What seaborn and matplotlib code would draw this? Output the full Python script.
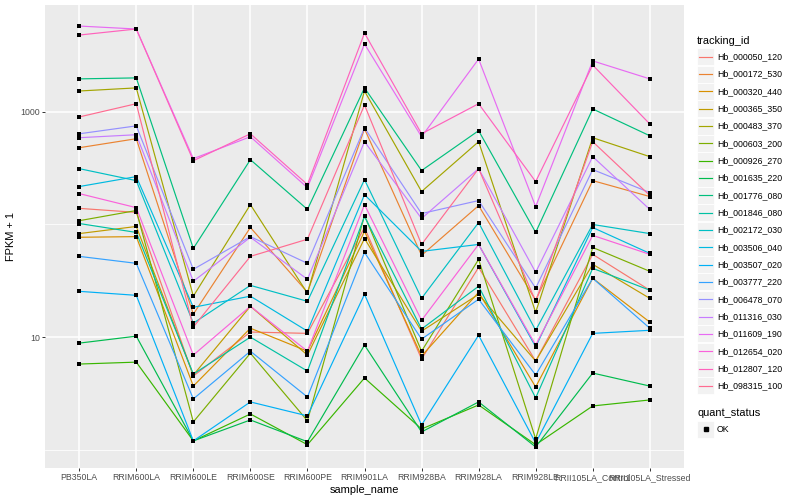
import numpy as np
import pandas as pd
import matplotlib
matplotlib.use("Agg")
import matplotlib.pyplot as plt
import seaborn as sns
from matplotlib.patches import Rectangle
from matplotlib.lines import Line2D
from matplotlib.ticker import FixedLocator, FixedFormatter, NullFormatter

# ---------------- data ----------------
samples = ["PB350LA", "RRIM600LA", "RRIM600LE", "RRIM600SE", "RRIM600PE",
           "RRIM901LA", "RRIM928BA", "RRIM928LA", "RRIM928LE",
           "RRII105LA_Control", "RRII105LA_Stressed"]

tracking_ids = ["Hb_000050_120", "Hb_000172_530", "Hb_000320_440", "Hb_000365_350",
                "Hb_000483_370", "Hb_000603_200", "Hb_000926_270", "Hb_001635_220",
                "Hb_001776_080", "Hb_001846_080", "Hb_002172_030", "Hb_003506_040",
                "Hb_003507_020", "Hb_003777_220", "Hb_006478_070", "Hb_011316_030",
                "Hb_011609_190", "Hb_012654_020", "Hb_012807_120", "Hb_098315_100"]

palette = ["#F8766D", "#EA8331", "#D89000", "#C09B00", "#A3A500", "#7CAE00",
           "#39B600", "#00BB4E", "#00BF7D", "#00C1A3", "#00BFC4", "#00BAE0",
           "#00B0F6", "#35A2FF", "#9590FF", "#C77CFF", "#E76BF3", "#FA62DB",
           "#FF62BC", "#FF6C91"]

hb_000050_120 = [139, 128, 4.52, 11.1, 10.8, 94, 6.39, 41.6, 6.13, 54.3, 26.1]
hb_000172_530 = [480, 577, 16.0, 94, 25.0, 707, 53.2, 147, 21.3, 245, 177]
hb_000320_440 = [77, 78, 3.68, 12.0, 7.5, 87, 6.79, 25.0, 3.61, 33.3, 13.6]
hb_000365_350 = [83, 96, 4.61, 18.8, 6.93, 75, 11.3, 24.0, 6.13, 44.3, 22.1]
hb_000483_370 = [1530, 1630, 23.1, 150, 24.5, 1530, 196, 543, 16.6, 589, 400]
hb_000603_200 = [108, 133, 1.77, 7.2, 1.81, 120, 7.5, 49.0, 1.25, 62.5, 38.4]
hb_000926_270 = [5.77, 6.0, 1.20, 2.08, 1.11, 4.34, 1.53, 2.50, 1.11, 2.45, 2.77]
hb_001635_220 = [8.85, 10.2, 1.20, 1.84, 1.18, 8.5, 1.44, 2.66, 1.06, 4.8, 3.68]
hb_001776_080 = [1960, 2000, 61.3, 376, 136, 1630, 301, 680, 85, 1060, 613]
hb_001846_080 = [102, 85, 4.7, 10.0, 5.0, 118, 11.8, 28.3, 2.89, 40.8, 26.1]
hb_002172_030 = [313, 245, 13.3, 28.8, 20.8, 250, 22.1, 104, 11.5, 100, 83]
hb_003506_040 = [217, 266, 18.4, 23.1, 11.3, 184, 57.7, 66.5, 8.2, 94, 55.4]
hb_003507_020 = [25.5, 23.5, 1.20, 2.66, 2.0, 24.0, 1.66, 10.4, 1.15, 10.8, 11.5]
hb_003777_220 = [52.1, 45.2, 2.83, 7.5, 2.94, 56.5, 9.6, 21.7, 4.61, 33.3, 12.0]
hb_006478_070 = [638, 750, 40.0, 78, 45.2, 721, 125, 163, 27.2, 307, 192]
hb_011316_030 = [589, 626, 31.3, 77, 32.6, 543, 113, 313, 37.6, 400, 136]
hb_011609_190 = [5770, 5430, 384, 601, 212, 4000, 601, 2940, 144, 2830, 1960]
hb_012654_020 = [188, 141, 6.93, 18.8, 7.5, 150, 14.1, 66.5, 8.5, 80, 54.3]
hb_012807_120 = [4800, 5430, 368, 638, 226, 5000, 638, 1180, 240, 2600, 780]
hb_098315_100 = [900, 1180, 12.3, 52.1, 74, 1150, 66.5, 313, 20.8, 543, 181]

series_values = [hb_000050_120, hb_000172_530, hb_000320_440, hb_000365_350,
                 hb_000483_370, hb_000603_200, hb_000926_270, hb_001635_220,
                 hb_001776_080, hb_001846_080, hb_002172_030, hb_003506_040,
                 hb_003507_020, hb_003777_220, hb_006478_070, hb_011316_030,
                 hb_011609_190, hb_012654_020, hb_012807_120, hb_098315_100]

y_major = [10, 1000]
y_major_labels = ["10", "1000"]
y_minor = [1, 100, 10000]

rows = []
for tid, vals in zip(tracking_ids, series_values):
    for s, v in zip(samples, vals):
        rows.append({"sample_name": s, "tracking_id": tid, "fpkm1": v, "quant_status": "OK"})
df = pd.DataFrame(rows)

# ---------------- style ----------------
FONT = ["Liberation Sans", "DejaVu Sans"]
plt.rcParams["font.family"] = FONT
W, H = 800, 500
fig = plt.figure(figsize=(8, 5), dpi=100)
ax = fig.add_axes([45 / W, 1 - 468 / H, (684 - 45) / W, (468 - 5) / H])
ax.set_facecolor("#EBEBEB")
for sp in ax.spines.values():
    sp.set_visible(False)
ax.set_yscale("log")

sns.lineplot(data=df, x="sample_name", y="fpkm1", hue="tracking_id",
             hue_order=tracking_ids, palette=palette, sort=False, estimator=None,
             units="tracking_id", linewidth=0.85, legend=False, ax=ax, zorder=2)
sns.scatterplot(data=df, x="sample_name", y="fpkm1", color="black", marker="s",
                s=7, linewidth=0, legend=False, ax=ax, zorder=3)

ax.set_xlim(-0.6, len(samples) - 0.4)
lmin, lmax = np.log10(df["fpkm1"].min()), np.log10(df["fpkm1"].max())
rng = lmax - lmin
ax.set_ylim(10 ** (lmin - 0.05 * rng), 10 ** (lmax + 0.05 * rng))

ax.yaxis.set_major_locator(FixedLocator(y_major))
ax.yaxis.set_major_formatter(FixedFormatter(y_major_labels))
ax.yaxis.set_minor_locator(FixedLocator(y_minor))
ax.yaxis.set_minor_formatter(NullFormatter())

ax.grid(which="major", color="white", linewidth=1.1)
ax.grid(which="minor", axis="y", color="white", linewidth=0.55)
ax.set_axisbelow(True)

ax.tick_params(axis="both", which="major", length=2.0, width=0.7, color="#333333",
               labelsize=6.3, labelcolor="#4D4D4D", pad=1.6)
ax.tick_params(axis="y", which="minor", length=0)

ax.set_xlabel("sample_name", fontsize=7.9, color="black", labelpad=2)
ax.set_ylabel("FPKM + 1", fontsize=7.9, color="black", labelpad=3)

# ---------------- legends (drawn in figure coords) ----------------
def fx(px):
    return px / W

def fy(py):
    return 1 - py / H

fig.text(fx(697), fy(40.5), "tracking_id", fontsize=7.9, va="center", ha="left")
step = 17.33
key = 17.0
for i, (tid, col) in enumerate(zip(tracking_ids, palette)):
    yc = 56.7 + i * step
    fig.patches.append(Rectangle((fx(697), fy(yc + key / 2)), key / W, key / H,
                                 transform=fig.transFigure, facecolor="#F2F2F2",
                                 edgecolor="white", linewidth=0.6))
    fig.lines.append(Line2D([fx(698.7), fx(712.3)], [fy(yc), fy(yc)],
                            transform=fig.transFigure, color=col, linewidth=0.85))
    fig.text(fx(717), fy(yc), tid, fontsize=6.3, va="center", ha="left")

fig.text(fx(697), fy(412.5), "quant_status", fontsize=7.9, va="center", ha="left")
fig.patches.append(Rectangle((fx(697), fy(429 + key / 2)), key / W, key / H,
                             transform=fig.transFigure, facecolor="#F2F2F2",
                             edgecolor="white", linewidth=0.6))
fig.lines.append(Line2D([fx(705.5)], [fy(429)], transform=fig.transFigure,
                        color="black", marker="s", markersize=2.6, linestyle="none"))
fig.text(fx(717), fy(429), "OK", fontsize=6.3, va="center", ha="left")

fig.savefig("out.png", dpi=100)
